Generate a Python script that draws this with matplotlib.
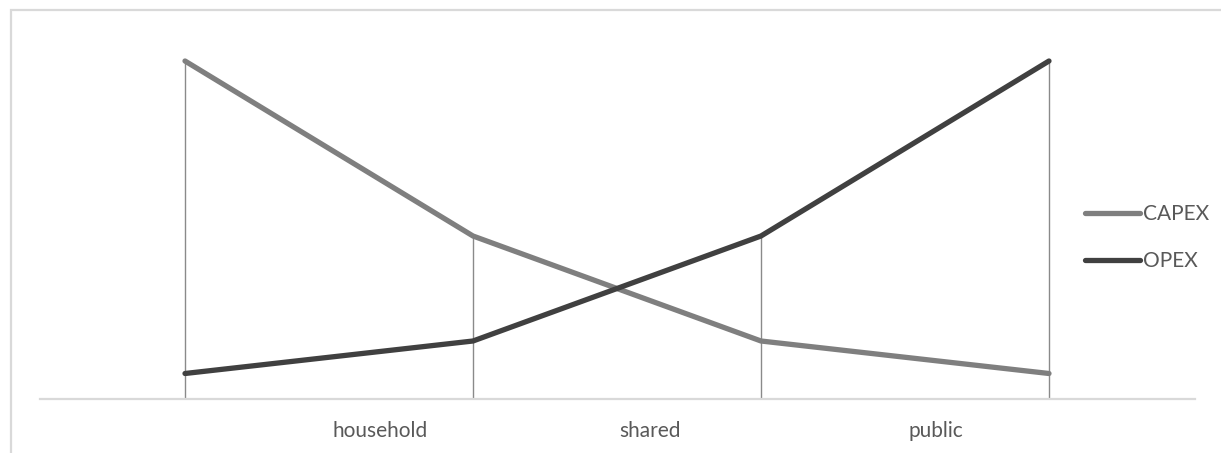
import matplotlib
matplotlib.use("Agg")
import matplotlib.pyplot as plt
from matplotlib.patches import Rectangle

# Cost profile by sanitation option
stages = [0, 1, 2, 3]
capex = [13.5, 6.5, 2.3, 1.0]
opex = [1.0, 2.3, 6.5, 13.5]
tick_positions = [0.677, 1.615, 2.608]
tick_labels = ["household", "shared", "public"]

W, H = 1221, 453
fig = plt.figure(figsize=(W / 100, H / 100), dpi=100)
plt.rcParams["font.family"] = ["Lato", "DejaVu Sans"]

# plot area in pixel terms
left_px, right_px, bottom_px, top_px = 40, 1195, 398.5, 30
ax = fig.add_axes([left_px / W, (H - bottom_px) / H,
                   (right_px - left_px) / W, (bottom_px - top_px) / H])

# outer chart frame (right and bottom edges fall outside the canvas)
fig.patches.append(Rectangle((11 / W, -0.1), 1.2, 1.1 - 10 / H,
                             transform=fig.transFigure, fill=False,
                             edgecolor="#d9d9d9", lw=1.6, clip_on=False))

# drop lines from the highest series value to the axis
tops = [max(a, b) for a, b in zip(capex, opex)]
ax.vlines(stages, 0, tops, color="#8a8a8a", lw=1.0, zorder=1)

ax.plot(stages, capex, color="#7f7f7f", lw=3.8, solid_capstyle="round",
        label="CAPEX", zorder=3)
ax.plot(stages, opex, color="#404040", lw=3.8, solid_capstyle="round",
        label="OPEX", zorder=3)

ax.set_xlim(-0.5035, 3.507)
ax.set_ylim(0, (bottom_px - top_px) / 25)

for s in ["top", "right", "left"]:
    ax.spines[s].set_visible(False)
ax.spines["bottom"].set_color("#d9d9d9")
ax.spines["bottom"].set_linewidth(1.6)
ax.set_yticks([])
ax.set_xticks(tick_positions)
ax.set_xticklabels(tick_labels, fontsize=15, color="#595959")
ax.tick_params(axis="x", length=0, pad=16)

leg = ax.legend(loc="upper left", bbox_to_anchor=(1075 / W, 1 - 194 / H),
                bbox_transform=fig.transFigure, frameon=False, fontsize=15,
                handlelength=2.6, handletextpad=0.15, labelspacing=1.28,
                borderpad=0)
for t in leg.get_texts():
    t.set_color("#595959")

fig.savefig("out.png", dpi=100)
